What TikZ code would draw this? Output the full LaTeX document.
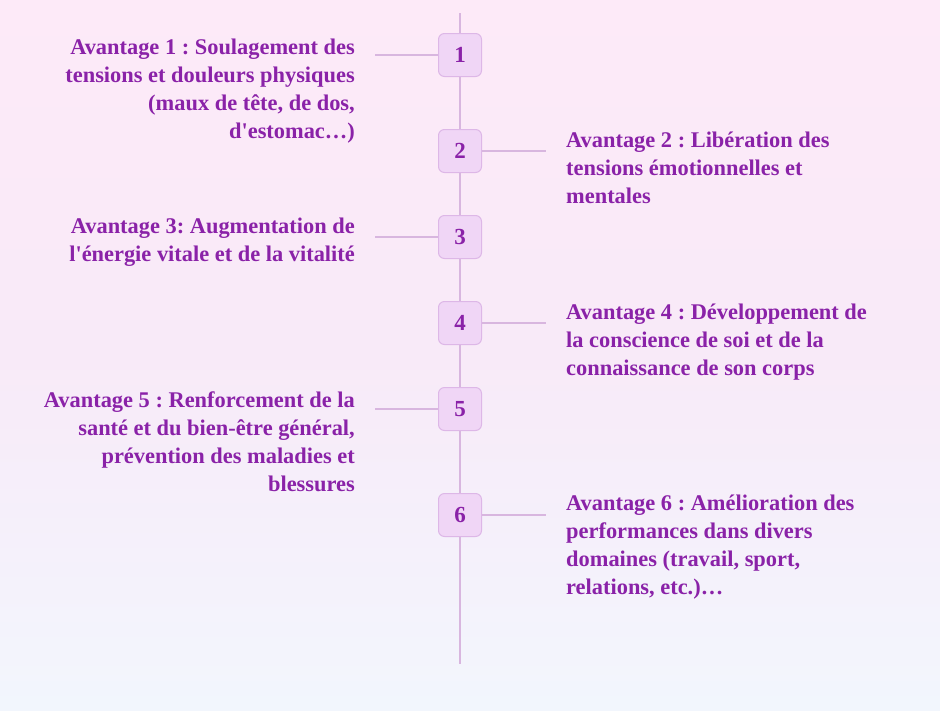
\documentclass[tikz,border=0pt]{standalone}
\usepackage{fontspec}
\newfontfamily\myfont{Liberation Serif}
\definecolor{txt}{HTML}{8A22A8}
\definecolor{lineC}{HTML}{D8B6DF}
\definecolor{boxF}{HTML}{F0D6F6}
\definecolor{boxD}{HTML}{DDB7E7}
\definecolor{bgTop}{HTML}{FDEAF8}
\definecolor{bgMid}{HTML}{F8EAF8}
\definecolor{bgBot}{HTML}{F2F6FD}
\newcommand{\fl}{\rule{0pt}{16pt}}
\begin{document}
\frenchspacing
\begin{tikzpicture}[x=1pt,y=-1pt,
  numbox/.style={draw=boxD, fill=boxF, line width=1pt, rounded corners=6pt,
    minimum width=43pt, minimum height=43pt, inner sep=0pt,
    font=\myfont\bfseries\fontsize{23}{23}\selectfont, text=txt},
  lt/.style={font=\myfont\bfseries\fontsize{22.4}{28}\selectfont, text=txt, inner sep=0pt},
  conn/.style={draw=lineC, line width=2pt}]
\shade[top color=bgTop, bottom color=bgBot, middle color=bgMid] (0,0) rectangle (940,710);
\useasboundingbox (0,0) rectangle (940,710);
\coordinate (top) at (460,13);
\coordinate (bot) at (460,664);
\draw[conn] (top) -- (bot);
\node[numbox] (b1) at (460,55) {1};
\node[numbox] (b2) at (460,151) {2};
\node[numbox] (b3) at (460,237) {3};
\node[numbox] (b4) at (460,323) {4};
\node[numbox] (b5) at (460,409) {5};
\node[numbox] (b6) at (460,515) {6};
\coordinate (c1) at (375,55);
\coordinate (c2) at (546,151);
\coordinate (c3) at (375,237);
\coordinate (c4) at (546,323);
\coordinate (c5) at (375,409);
\coordinate (c6) at (546,515);
\draw[conn] (c1) -- (b1.west);
\draw[conn] (b2.east) -- (c2);
\draw[conn] (c3) -- (b3.west);
\draw[conn] (b4.east) -- (c4);
\draw[conn] (c5) -- (b5.west);
\draw[conn] (b6.east) -- (c6);
\node[lt, align=right, anchor=north east] (t1) at (355,38) {\fl Avantage 1 : Soulagement des\\tensions et douleurs physiques\\(maux de tête, de dos,\\d'estomac…)};
\node[lt, align=left, anchor=north west] (t2) at (566,131) {\fl Avantage 2 : Libération des\\tensions émotionnelles et\\mentales};
\node[lt, align=right, anchor=north east] (t3) at (355,217) {\fl Avantage 3: Augmentation de\\l'énergie vitale et de la vitalité};
\node[lt, align=left, anchor=north west] (t4) at (566,303) {\fl Avantage 4 : Développement de\\la conscience de soi et de la\\connaissance de son corps};
\node[lt, align=right, anchor=north east] (t5) at (355,391) {\fl Avantage 5 : Renforcement de la\\santé et du bien-être général,\\prévention des maladies et\\blessures};
\node[lt, align=left, anchor=north west] (t6) at (566,494) {\fl Avantage 6 : Amélioration des\\performances dans divers\\domaines (travail, sport,\\relations, etc.)…};
\end{tikzpicture}
\end{document}
